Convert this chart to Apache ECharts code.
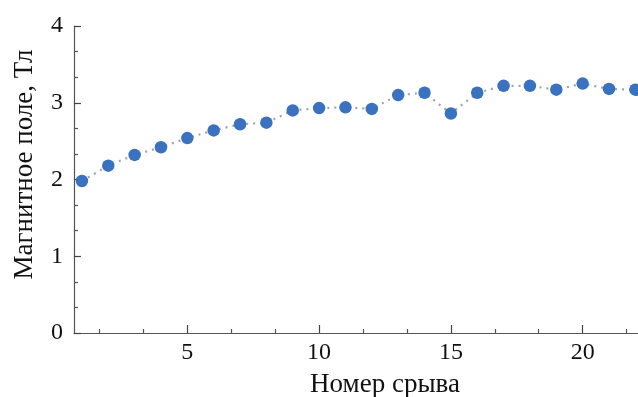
<!DOCTYPE html>
<html>
<head>
<meta charset="utf-8">
<script src="https://cdn.jsdelivr.net/npm/echarts@6/dist/echarts.min.js"></script>
<style>html,body{margin:0;padding:0;background:#fff}#c{width:638px;height:397px}</style>
</head>
<body>
<div id="c"></div>
<script>
var shotNumbers = [1,2,3,4,5,6,7,8,9,10,11,12,13,14,15,16,17,18,19,20,21,22];
var fieldValues = [1.98,2.18,2.32,2.42,2.54,2.64,2.72,2.74,2.90,2.93,2.94,2.92,3.10,3.13,2.86,3.13,3.22,3.22,3.17,3.25,3.18,3.17];
var xLabelValues = [5,10,15,20];
var xMinorTicks = [1.667,3.333,6.667,8.333,11.667,13.333,16.667,18.333,21.667];
var xTitle = 'Номер срыва';
var yTitle = 'Магнитное поле, Тл';

var font = '"Liberation Serif", "Times New Roman", serif';
var chart = echarts.init(document.getElementById('c'));
var pts = shotNumbers.map(function(x,i){return [x, fieldValues[i]];});
chart.setOption({
  animation: false,
  grid: {left: 74, right: 0, top: 26, bottom: 64, containLabel: false, outerBoundsMode: 'none'},
  xAxis: [{
    type: 'value', min: 0.7, max: 22.1,
    axisLine: {show: true, lineStyle: {color: '#555', width: 1.2}},
    axisTick: {show: true, inside: true, length: 8, customValues: xLabelValues, lineStyle: {color: '#444', width: 1.2}},
    axisLabel: {show: true, customValues: xLabelValues, color: '#111', fontFamily: font, fontSize: 24, margin: 8},
    splitLine: {show: false},
    name: xTitle, nameLocation: 'middle', nameGap: 38,
    nameTextStyle: {color: '#111', fontFamily: font, fontSize: 27, padding: [0,0,0,58]}
  },{
    type: 'value', min: 0.7, max: 22.1, position: 'bottom',
    axisLine: {show: false},
    axisTick: {show: true, inside: true, length: 4, customValues: xMinorTicks, lineStyle: {color: '#555', width: 1.2}},
    axisLabel: {show: false},
    splitLine: {show: false}
  }],
  yAxis: {
    type: 'value', min: 0, max: 4, interval: 1,
    axisLine: {show: true, lineStyle: {color: '#555', width: 1.2}},
    axisTick: {show: true, inside: true, length: 7, lineStyle: {color: '#444', width: 1.2}},
    minorTick: {show: true, splitNumber: 3, length: 4, lineStyle: {color: '#555', width: 1.2}},
    axisLabel: {color: '#111', fontFamily: font, fontSize: 24, margin: 11},
    splitLine: {show: false},
    name: yTitle, nameLocation: 'middle', nameGap: 36, nameRotate: 90,
    nameTextStyle: {color: '#111', fontFamily: font, fontSize: 27, padding: [0,0,0,30]}
  },
  series: [{
    type: 'line', data: pts, xAxisIndex: 0,
    symbol: 'circle', symbolSize: 12.5,
    itemStyle: {color: '#3a72c0'},
    lineStyle: {color: '#9ea4ad', width: 2.2, type: [2,5]},
    clip: false
  }]
});
</script>
</body>
</html>
